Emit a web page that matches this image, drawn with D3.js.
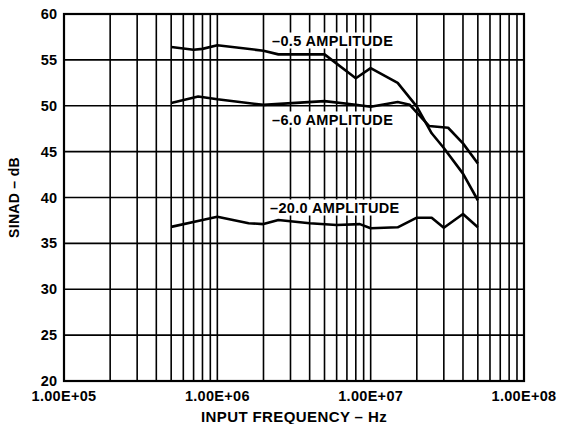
<!DOCTYPE html>
<html>
<head>
<meta charset="utf-8">
<script src="https://cdn.jsdelivr.net/npm/d3@7"></script>
<style>
  body { margin: 0; background: #fff; }
  text { font-family: "Liberation Sans", Arial, Helvetica, sans-serif; font-weight: bold; fill: #000; }
</style>
</head>
<body>
<div id="chart"></div>
<script>
// SINAD vs input frequency, three input amplitudes

var xTicks = [1e5, 1e6, 1e7, 1e8];
var xTickLabels = ['1.00E+05', '1.00E+06', '1.00E+07', '1.00E+08'];
var yTicks = [20, 25, 30, 35, 40, 45, 50, 55, 60];

var freqA = [5e5, 7e5, 8e5, 1e6, 2e6, 2.5e6, 5e6, 8e6, 1e7, 1.5e7, 2e7, 2.5e7, 3e7, 4e7, 5e7];
var sinadA = [56.4, 56.1, 56.2, 56.6, 56.0, 55.6, 55.6, 53.0, 54.1, 52.5, 49.9, 47.0, 45.4, 42.6, 39.7];

var freqB = [5e5, 7.5e5, 1e6, 2e6, 5e6, 8e6, 1e7, 1.5e7, 1.8e7, 2.4e7, 3.2e7, 4e7, 5e7];
var sinadB = [50.3, 51.0, 50.7, 50.1, 50.5, 50.1, 49.9, 50.4, 50.1, 47.8, 47.6, 45.9, 43.7];

var freqC = [5e5, 8e5, 1e6, 1.6e6, 2e6, 2.5e6, 4e6, 6e6, 8.5e6, 1e7, 1.5e7, 2e7, 2.5e7, 3e7, 4e7, 5e7];
var sinadC = [36.8, 37.55, 37.9, 37.2, 37.1, 37.55, 37.2, 37.0, 37.1, 36.65, 36.75, 37.8, 37.8, 36.7, 38.2, 36.75];

var labels = ['\u20130.5 AMPLITUDE', '\u20136.0 AMPLITUDE', '\u201320.0 AMPLITUDE'];

(function() {
  var w = 564, h = 424;
  var left = 64, right = 524, top = 14, bottom = 381;

  var svg = d3.select('#chart').append('svg').attr('width', w).attr('height', h);

  var x = d3.scaleLog().domain([1e5, 1e8]).range([left, right]);
  var y = d3.scaleLinear().domain([20, 60]).range([bottom, top]);

  // minor grid: every 1..9 in each decade
  var vGrid = [];
  for (var d = 1e5; d < 1e8; d *= 10) {
    for (var k = 2; k <= 9; k++) vGrid.push(d * k);
  }
  vGrid = vGrid.concat([1e6, 1e7]);

  var grid = svg.append('g');
  grid.selectAll('line.v').data(vGrid).enter().append('line')
    .attr('x1', function(f) { return x(f); }).attr('x2', function(f) { return x(f); })
    .attr('y1', top).attr('y2', bottom)
    .attr('stroke', '#000').attr('stroke-width', 1.6);
  grid.selectAll('line.h').data(yTicks.slice(1, -1)).enter().append('line')
    .attr('x1', left).attr('x2', right)
    .attr('y1', function(v) { return y(v); }).attr('y2', function(v) { return y(v); })
    .attr('stroke', '#000').attr('stroke-width', 1.6);

  // curves
  var line = d3.line()
    .x(function(p) { return x(p[0]); })
    .y(function(p) { return y(p[1]); });

  var series = [d3.zip(freqA, sinadA), d3.zip(freqB, sinadB), d3.zip(freqC, sinadC)];
  svg.selectAll('path.curve').data(series).enter().append('path')
    .attr('d', line)
    .attr('fill', 'none').attr('stroke', '#000').attr('stroke-width', 2.6)
    .attr('stroke-linejoin', 'round');

  // curve labels on white boxes
  var labelPos = [[272, 45.5], [272, 124.5], [270, 212.5]];
  labels.forEach(function(t, i) {
    var g = svg.append('g');
    var bg = g.append('rect').attr('fill', '#fff');
    var tx = g.append('text').attr('x', labelPos[i][0]).attr('y', labelPos[i][1])
      .attr('font-size', 14.5).attr('letter-spacing', 0.35).text(t);
    var b = tx.node().getBBox();
    bg.attr('x', b.x - 2).attr('y', b.y).attr('width', b.width + 3).attr('height', b.height);
  });

  // frame
  svg.append('rect').attr('x', left).attr('y', top)
    .attr('width', right - left).attr('height', bottom - top)
    .attr('fill', 'none').attr('stroke', '#000').attr('stroke-width', 2.2);

  // axes labels
  svg.selectAll('text.yt').data(yTicks).enter().append('text')
    .attr('x', 57).attr('y', function(v) { return y(v) + 5; })
    .attr('text-anchor', 'end').attr('font-size', 14.5)
    .text(function(v) { return v; });

  svg.selectAll('text.xt').data(xTicks).enter().append('text')
    .attr('x', function(f) { return x(f); }).attr('y', 401)
    .attr('text-anchor', 'middle').attr('font-size', 14.5).attr('letter-spacing', 0.3)
    .text(function(f, i) { return xTickLabels[i]; });

  svg.append('text').attr('x', (left + right) / 2).attr('y', 421.5)
    .attr('text-anchor', 'middle').attr('font-size', 15).attr('letter-spacing', 0.4)
    .text('INPUT FREQUENCY \u2013 Hz');

  svg.append('text').attr('transform', 'translate(19,' + (top + bottom) / 2 + ') rotate(-90)')
    .attr('text-anchor', 'middle').attr('font-size', 14).attr('letter-spacing', 0.3)
    .text('SINAD \u2013 dB');
})();
</script>
</body>
</html>
